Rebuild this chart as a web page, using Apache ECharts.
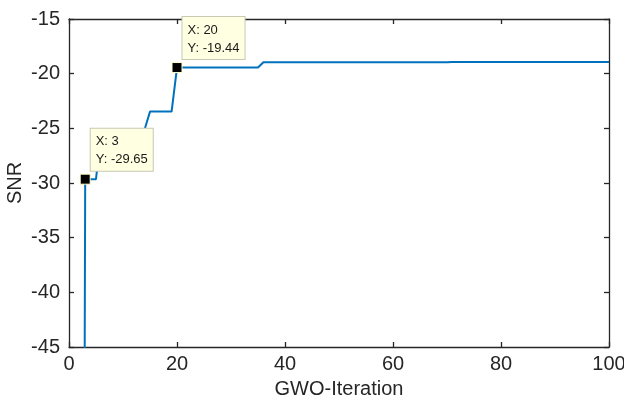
<!DOCTYPE html>
<html>
<head>
<meta charset="utf-8">
<script src="https://cdn.jsdelivr.net/npm/echarts@6/dist/echarts.min.js"></script>
<style>
  html, body { margin: 0; padding: 0; background: #fff; }
  #main { width: 624px; height: 408px; }
</style>
</head>
<body>
<div id="main"></div>
<script>
// GWO best SNR per iteration (iterations 1..100)
var iterSnr = [
    -200, -200, -29.65, -29.65, -29.65,
    -25.1, -25.1, -25.1, -25.1, -25.1, -25.1, -25.1, -25.1, -25.1,
    -23.47, -23.47, -23.47, -23.47, -23.47,
    -19.44, -19.44, -19.44, -19.44, -19.44, -19.44, -19.44, -19.44,
    -19.44, -19.44, -19.44, -19.44, -19.44, -19.44, -19.44, -19.44,
    -18.95, -18.95, -18.95, -18.95, -18.95, -18.95, -18.95, -18.95, -18.95, -18.95,
    -18.95, -18.95, -18.95, -18.95, -18.95, -18.95, -18.95, -18.95, -18.95, -18.95,
    -18.95, -18.95, -18.95, -18.95, -18.95, -18.95, -18.95, -18.95, -18.95, -18.95,
    -18.95, -18.95, -18.95, -18.95, -18.95,
    -18.93, -18.93, -18.93, -18.93, -18.93, -18.93, -18.93, -18.93, -18.93, -18.93,
    -18.93, -18.93, -18.93, -18.93, -18.93, -18.93, -18.93, -18.93, -18.93, -18.93,
    -18.93, -18.93, -18.93, -18.93, -18.93, -18.93, -18.93, -18.93, -18.93, -18.93
];
// data tips shown on the plot
var tipX = [3, 20];
var tipY = [-29.65, -19.44];

var lineData = [];
for (var i = 0; i < iterSnr.length; i++) {
    lineData.push([i + 1, iterSnr[i]]);
}
var tipData = [];
for (var j = 0; j < tipX.length; j++) {
    tipData.push([tipX[j], tipY[j]]);
}

var fontFam = "'Liberation Sans', Arial, Helvetica, sans-serif";
var axisCol = '#262626';

function boxAxis(pos, isX, main) {
    var ax = {
        type: 'value',
        position: pos,
        min: isX ? 0 : -45,
        max: isX ? 100 : -15,
        interval: isX ? 20 : 5,
        axisLine: { show: true, onZero: false, lineStyle: { color: axisCol, width: 1.3 } },
        axisTick: { show: true, inside: true, length: 5, lineStyle: { color: axisCol, width: 1.3 } },
        splitLine: { show: false },
        axisLabel: {
            show: main,
            color: axisCol,
            fontSize: 20,
            fontFamily: fontFam,
            margin: isX ? 7 : 9
        }
    };
    if (main) {
        ax.name = isX ? 'GWO-Iteration' : 'SNR';
        ax.nameLocation = 'middle';
        ax.nameGap = isX ? 32 : 44;
        ax.nameMoveOverlap = false;
        ax.nameTextStyle = { color: axisCol, fontSize: 20, fontFamily: fontFam };
    }
    return ax;
}

var chartObj = echarts.init(document.getElementById('main'), null, { renderer: 'canvas' });
var chartOpt = {
    animation: false,
    backgroundColor: '#fff',
    grid: { left: 69, right: 15, top: 19, bottom: 61, containLabel: false, outerBoundsMode: 'none' },
    xAxis: [boxAxis('bottom', true, true), boxAxis('top', true, false)],
    yAxis: [boxAxis('left', false, true), boxAxis('right', false, false)],
    series: [
        {
            type: 'line',
            data: lineData,
            showSymbol: false,
            clip: true,
            lineStyle: { color: '#0072BD', width: 2 },
            z: 2
        },
        {
            type: 'scatter',
            data: tipData,
            symbol: 'rect',
            symbolSize: 10,
            itemStyle: { color: '#000', borderColor: '#ffffcc', borderWidth: 1, opacity: 1 },
            label: {
                show: true,
                position: [11, -3],
                align: 'left',
                verticalAlign: 'bottom',
                formatter: function (p) {
                    return 'X: ' + p.value[0] + '\nY: ' + p.value[1].toFixed(2);
                },
                color: '#1a1a1a',
                fontSize: 13,
                fontFamily: fontFam,
                lineHeight: 18,
                backgroundColor: '#ffffe1',
                borderColor: '#c8c8b4',
                borderWidth: 1,
                padding: [4, 5, 2, 5]
            },
            z: 5
        }
    ]
};
chartObj.setOption(chartOpt);
</script>
</body>
</html>
